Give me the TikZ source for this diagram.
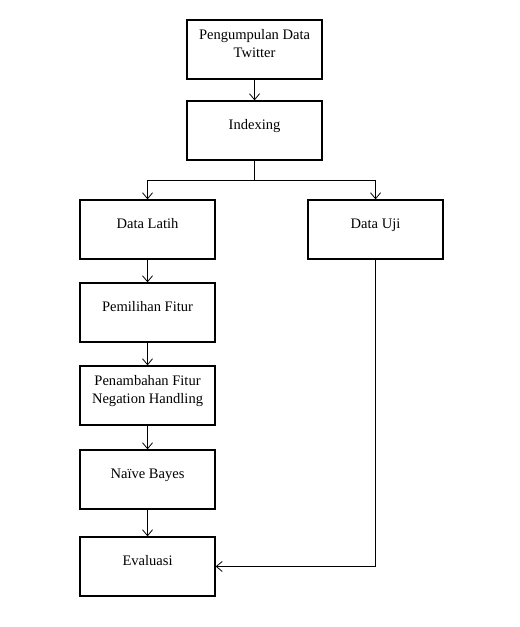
\documentclass[tikz,border=0pt]{standalone}
\usepackage{fontspec}
\setmainfont{Liberation Serif}
\usetikzlibrary{arrows.meta}
\tikzstyle{stage}=[rectangle,draw=black,line width=0.9pt,minimum width=101.25pt,minimum height=44.25pt,align=center,text depth=9pt,font=\fontsize{10.9}{13.5}\selectfont]
\tikzstyle{link}=[line width=0.6pt]

\begin{document}
\begin{tikzpicture}[auto, inner sep=3pt, >={Straight Barb[length=4.5pt,width=7.5pt]}]
      \useasboundingbox (0pt,0pt) rectangle (390pt,-470.25pt);
      \node [stage] (twitter) at (190.9pt,-37.1pt) {Pengumpulan Data\\Twitter};
      \node [stage] (indexing) [below of=twitter, node distance=60.75pt] {Indexing};
      \node [stage] (latih) [below of=indexing, node distance=74.25pt, xshift=-80.25pt] {Data Latih};
      \node [stage] (uji) [right of=latih, node distance=171pt] {Data Uji};
      \node [stage] (fitur) [below of=latih, node distance=62.25pt] {Pemilihan Fitur};
      \node [stage] (negasi) [below of=fitur, node distance=62.25pt] {Penambahan Fitur\\Negation Handling};
      \node [stage] (bayes) [below of=negasi, node distance=63pt] {Naïve Bayes};
      \node [stage] (evaluasi) [below of=bayes, node distance=65.25pt] {Evaluasi};
      \coordinate [below of=indexing, node distance=37.1pt] (split);
      \draw [link,->] (twitter) -- (indexing);
      \draw [link] (indexing) -- (split);
      \draw [link,->] (split) -| (latih);
      \draw [link,->] (split) -| (uji);
      \draw [link,->] (latih) -- (fitur);
      \draw [link,->] (fitur) -- (negasi);
      \draw [link,->] (negasi) -- (bayes);
      \draw [link,->] (bayes) -- (evaluasi);
      \draw [link,->] (uji) |- (evaluasi);
    \end{tikzpicture}
\end{document}
